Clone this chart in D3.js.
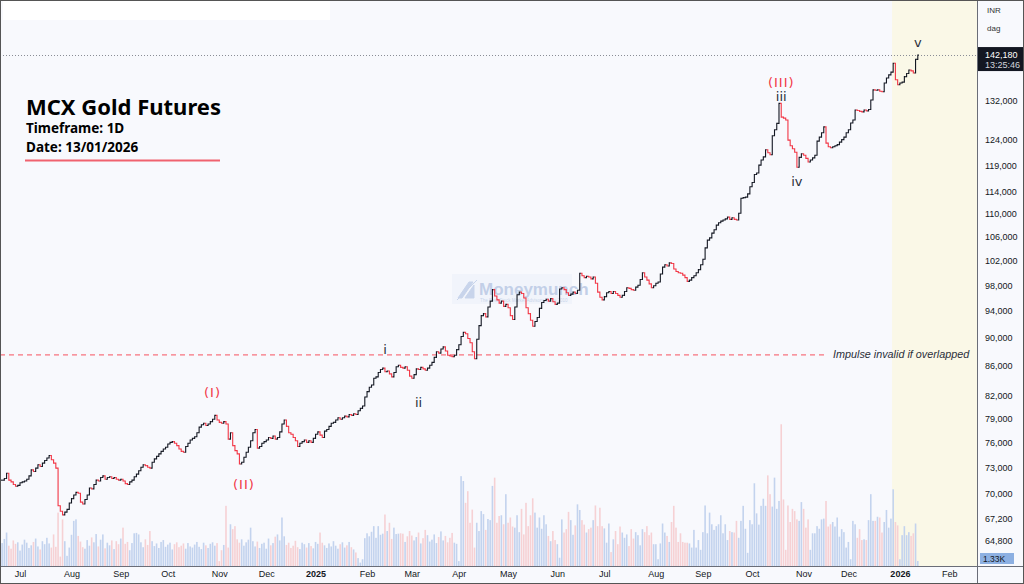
<!DOCTYPE html>
<html>
<head>
<meta charset="utf-8">
<script src="https://cdn.jsdelivr.net/npm/d3@7"></script>
<style>
  body { margin: 0; background: #fff; }
  svg { display: block; font-family: "Liberation Sans", Arial, sans-serif; }
</style>
</head>
<body>
<div id="chart"></div>
<script>
var svgWidth = 1024;
var svgHeight = 584;

// daily closes, thousands of INR, one per trading day from 19 Jun 2024
var closes = [
  // Jun 2024
  71.5, 71.7, 72.3, 71.5, 71.3, 71.0, 70.8, 70.9,
  // Jul
  71.2, 71.3, 71.4, 71.6, 72.0, 72.7, 72.5, 72.9, 73.3, 73.1, 73.5, 73.8, 74.1, 74.4, 73.9, 73.5, 72.9, 68.6, 68.0, 67.6, 67.9, 68.2, 68.9,
  // Aug
  69.4, 69.8, 70.1, 70.0, 69.0, 68.8, 69.3, 69.8, 70.6, 70.5, 71.0, 71.5, 71.4, 71.8, 72.0, 71.6, 71.8, 71.9, 71.7, 71.8, 71.6, 71.5,
  // Sep
  71.6, 71.4, 71.1, 71.0, 71.3, 71.5, 71.9, 72.2, 72.6, 73.0, 73.3, 73.2, 73.0, 72.9, 73.6, 74.0, 74.3, 74.6, 74.9, 75.2, 75.4,
  // Oct
  75.8, 76.0, 76.1, 75.9, 75.6, 75.2, 74.9, 74.8, 75.5, 75.9, 76.3, 76.5, 76.7, 77.2, 77.9, 78.2, 78.4, 78.1, 78.3, 78.6, 78.9, 79.4, 78.8,
  // Nov
  78.5, 78.4, 78.6, 78.3, 76.4, 77.2, 75.6, 75.0, 74.6, 73.4, 73.6, 74.2, 74.8, 75.4, 76.2, 77.2, 77.6, 75.3, 75.5, 75.9, 76.1,
  // Dec
  76.3, 76.6, 76.5, 76.8, 76.4, 76.6, 77.3, 78.3, 78.8, 78.0, 77.2, 77.0, 76.6, 76.2, 75.5, 75.9, 76.1, 76.3, 76.0, 76.2, 76.0, 76.5,
  // Jan 2025
  77.0, 77.3, 76.9, 76.6, 77.4, 77.6, 78.0, 78.4, 78.5, 78.8, 79.1, 78.9, 79.1, 79.3, 79.2, 79.5, 79.4, 79.6, 79.5, 80.0, 80.3, 80.6, 81.8,
  // Feb
  82.5, 83.1, 83.4, 84.3, 84.5, 85.1, 85.5, 85.7, 85.2, 85.3, 84.9, 84.5, 85.1, 85.9, 86.1, 85.8, 85.7, 85.9, 85.4, 84.6,
  // Mar
  84.3, 84.8, 85.6, 85.5, 85.8, 85.6, 85.4, 85.7, 86.1, 86.5, 87.2, 88.0, 87.8, 88.4, 88.7, 88.1, 87.5, 87.4, 87.3, 87.5, 88.3,
  // Apr
  89.0, 90.2, 90.8, 90.6, 89.9, 89.3, 88.0, 87.0, 89.8, 91.8, 93.3, 93.6, 93.1, 94.6, 95.5, 97.3, 96.3, 95.7, 95.2, 95.5, 94.7, 95.0,
  // May
  94.5, 93.3, 92.7, 94.6, 96.5, 96.9, 96.7, 96.0, 94.5, 93.6, 92.6, 91.7, 92.4, 93.0, 94.4, 95.3, 95.6, 95.8, 95.5, 95.9, 95.4, 95.0,
  // Jun
  95.2, 97.4, 97.6, 97.3, 96.8, 96.4, 96.6, 96.9, 96.7, 97.2, 99.9, 99.5, 99.2, 99.4, 99.3, 99.0, 99.3, 98.3, 96.9, 96.1, 95.7,
  // Jul
  96.2, 96.8, 97.0, 96.7, 97.0, 96.7, 96.4, 96.1, 96.4, 97.0, 97.6, 97.5, 97.3, 97.2, 97.7, 98.0, 98.9, 100.0, 99.3, 98.8, 98.2, 97.6, 97.9,
  // Aug
  98.3, 98.5, 99.8, 100.9, 101.3, 101.1, 101.6, 101.5, 100.6, 100.2, 100.0, 99.9, 99.6, 99.2, 98.6, 98.8, 99.2, 99.5, 100.0, 100.5, 101.3,
  // Sep
  102.2, 104.1, 105.4, 105.8, 106.6, 107.2, 108.0, 108.4, 108.7, 108.9, 109.1, 109.4, 109.0, 109.3, 109.0, 108.9, 110.1, 112.8, 112.9, 113.0, 113.6, 114.9,
  // Oct
  115.7, 117.2, 117.5, 119.0, 120.0, 120.6, 122.0, 121.4, 121.0, 124.8, 126.0, 127.3, 131.5, 128.6, 128.4, 128.0, 123.9, 122.8, 122.2, 121.5, 118.6, 120.5, 121.2,
  // Nov
  120.9, 120.3, 119.6, 120.0, 120.4, 120.9, 123.7, 124.5, 125.4, 126.6, 123.3, 122.6, 122.4, 122.6, 122.8, 123.0, 123.5, 124.0, 124.5, 125.4,
  // Dec
  126.0, 127.4, 128.0, 130.1, 130.0, 129.8, 129.7, 130.1, 129.9, 130.2, 132.2, 134.4, 134.3, 134.4, 134.1, 134.0, 135.9, 137.0, 137.7, 138.3, 140.3, 136.6, 135.5,
  // Jan 2026
  135.9, 136.1, 137.3, 138.0, 138.8, 138.6, 138.1, 141.2, 142.18
];

// daily volume, thousand lots
var volumes = [
  6.1, 7.2, 8.9, 5.4, 4.6, 6.8, 5.9, 6.3, 4.1, 5.7,
  7.0, 6.2, 4.8, 5.5, 6.4, 7.3, 5.2, 4.4, 6.6, 5.8,
  7.5, 6.0, 4.9, 8.4, 5.1, 14.2, 2.5, 12.4, 6.6, 2.7,
  4.9, 8.3, 12.0, 12.4, 8.0, 6.5, 5.0, 4.6, 6.9, 5.4,
  7.6, 6.3, 8.5, 5.2, 7.0, 8.4, 4.7, 6.2, 5.5, 6.8,
  4.5, 6.6, 5.8, 7.3, 10.2, 5.9, 6.4, 4.2, 6.1, 8.7,
  8.8, 8.4, 6.3, 5.0, 7.1, 5.6, 9.3, 6.6, 5.3, 6.0,
  4.8, 6.4, 6.9, 5.1, 5.7, 6.2, 4.4, 5.8, 6.3, 5.0,
  5.4, 6.0, 4.6, 6.1, 5.2, 4.9, 5.7, 6.4, 5.1, 4.5,
  6.2, 5.5, 4.8, 5.9, 6.3, 5.4, 6.1, 1.3, 4.2, 5.6,
  16.0, 4.9, 11.1, 9.8, 10.6, 7.1, 6.2, 7.1, 5.4, 6.3,
  7.0, 10.2, 6.6, 5.2, 6.5, 4.8, 5.9, 6.2, 4.6, 7.3,
  5.5, 6.1, 7.8, 8.4, 6.8, 12.9, 7.9, 5.6, 6.2, 4.8,
  5.4, 6.7, 5.0, 4.5, 6.2, 5.8, 4.9, 6.1, 5.3, 4.7,
  6.4, 5.9, 8.9, 6.2, 5.5, 4.8, 6.0, 5.2, 6.6, 5.4,
  4.6, 5.8, 6.3, 4.9, 5.5, 6.4, 5.0, 4.4, 3.6, 2.1,
  0.9, 1.8, 7.4, 8.7, 7.9, 9.1, 10.6, 7.5, 10.6, 8.3,
  8.6, 13.7, 9.3, 11.5, 7.2, 10.2, 8.5, 8.6, 8.7, 8.6,
  6.4, 7.9, 9.3, 8.1, 6.8, 7.7, 8.9, 6.0, 7.4, 9.6,
  8.2, 6.5, 7.0, 8.4, 6.1, 7.7, 9.2, 6.8, 8.0, 6.3,
  7.5, 8.8, 6.2, 5.9, 1.3, 23.9, 22.6, 16.8, 19.9, 11.5,
  15.0, 4.9, 11.5, 9.3, 14.6, 13.8, 9.6, 12.5,
  12.2, 21.3, 23.5, 11.5, 13.3, 13.5, 11.1, 19.1, 11.5, 12.9, 10.5,
  10.2, 13.5, 9.0, 15.2, 8.4, 16.8, 10.6, 13.5, 18.0, 14.2, 10.2, 12.9, 9.9, 13.5, 11.1, 8.0,
  6.6, 9.3, 6.9, 5.8, 2.2, 12.4, 8.9, 9.8, 14.4, 12.2, 8.3, 10.8, 16.4, 14.9, 12.2, 11.0,
  8.9, 9.8, 10.2, 12.2, 16.1, 10.6, 15.5, 10.6, 10.0, 6.2, 11.3, 3.7, 7.1, 9.3, 5.8, 10.5, 8.9, 7.5, 8.4, 5.3,
  9.8, 7.3, 9.0, 8.2, 5.5, 9.8, 9.0, 10.6, 8.2, 8.9, 5.8, 5.8, 1.8, 6.0, 11.3, 8.9, 8.0, 6.4, 11.7, 16.0,
  10.2, 6.4, 8.7, 6.4, 6.2, 6.2, 6.0, 4.9, 9.6, 4.9, 6.9, 4.3, 9.0, 16.1, 8.7, 14.2, 11.1, 9.6, 10.6, 11.1,
  13.5, 8.7, 11.1, 6.9, 9.3, 9.0, 8.9, 12.0, 7.5, 12.0, 16.0, 9.9, 3.5, 12.2, 11.1, 22.0, 14.0, 11.0, 16.0, 17.9,
  16.0, 24.1, 19.1, 15.8, 23.5, 15.2, 17.3, 37.7, 17.7, 4.3, 16.1, 11.7, 15.2, 14.6, 12.4, 12.0, 17.0, 15.2, 10.2, 12.4,
  4.3, 8.7, 8.7, 10.6, 9.9, 12.4, 12.6, 17.3, 10.5, 11.1, 11.7, 10.5, 12.9, 7.8, 9.8, 9.0, 4.9, 6.4, 1.8, 12.0,
  11.1, 7.5, 9.8, 6.9, 7.1, 6.9, 12.2, 19.1, 12.0, 12.0, 13.1, 12.9, 8.9, 11.7, 14.9, 10.2, 12.6, 20.4, 11.7, 10.8,
  1.8, 8.2, 10.6, 8.2, 9.0, 8.0, 8.7, 11.3, 1.33
];

var priceTicks = [64800, 67200, 70000, 73000, 76000, 79000, 82000, 86000, 90000, 94000,
  98000, 102000, 106000, 110000, 114000, 119000, 124000, 132000];
var monthNames = ["Jan", "Feb", "Mar", "Apr", "May", "Jun", "Jul", "Aug", "Sep", "Oct", "Nov", "Dec"];

var lastPrice = 142180;
var lastTime = "13:25:46";
var lastVolume = "1.33K";
var impulseLevel = 87550;
var shadeFrom = "2025-12-29";

// wave labels: trading-day index and price level of the label
var waves = [
  { text: "(I)", i: 94, price: 82440, red: true },
  { text: "(II)", i: 108, price: 71030, red: true },
  { text: "i", i: 171, price: 88380, red: false },
  { text: "ii", i: 186, price: 81100, red: false },
  { text: "(III)", i: 348, price: 135900, red: true },
  { text: "iii", i: 348, price: 133070, red: false },
  { text: "iv", i: 355, price: 115970, red: false },
  { text: "v", i: 409, price: 144990, red: false }
];

var plotRight = 977;
var timeAxisY = 566;
var upColor = "#131722", downColor = "#f23645";

var svg = d3.select("#chart")
  .append("svg")
  .attr("width", svgWidth)
  .attr("height", svgHeight);

// trading days (weekdays) starting 19 Jun 2024
var allDays = d3.timeDay.range(new Date(2024, 5, 19), new Date(2026, 2, 1))
  .filter(d => d.getDay() !== 0 && d.getDay() !== 6);

var x = d3.scaleLinear().domain([0, closes.length - 1]).range([2.1, 917.8]);
var step = x(1) - x(0);
var y = d3.scaleLog().domain([64800, 132000]).range([541, 101]);
var yVol = d3.scaleLinear().domain([0, 40]).range([timeAxisY, timeAxisY - 150.4]);

var bars = closes.map(function(c, i) {
  var open = i === 0 ? c : closes[i - 1];
  return { i: i, open: open * 1000, close: c * 1000, vol: volumes[i], up: c >= open };
});

// backgrounds
svg.append("rect").attr("width", svgWidth).attr("height", svgHeight).attr("fill", "#f8f9fd");
svg.append("rect").attr("x", 3).attr("y", 0).attr("width", 327).attr("height", 20).attr("fill", "#ffffff");

var shadeIdx = allDays.findIndex(d => d3.timeFormat("%Y-%m-%d")(d) === shadeFrom);
svg.append("rect")
  .attr("x", x(shadeIdx) - step / 2)
  .attr("y", 0)
  .attr("width", plotRight - (x(shadeIdx) - step / 2))
  .attr("height", timeAxisY)
  .attr("fill", "#faf8e7");

// watermark
var wm = svg.append("g").attr("transform", "translate(455,276)").attr("opacity", 0.6);
wm.append("rect").attr("x", -3).attr("y", -2).attr("width", 120).attr("height", 30).attr("fill", "#eef2fa");
wm.append("path").attr("d", "M3,22 L14,6 L18,6 L7,22 Z M10,22 L19,9 L19,22 Z M2,24 L22,4").attr("fill", "#a9bde0").attr("stroke", "#a9bde0");
wm.append("text").attr("x", 24).attr("y", 19).attr("font-size", 17).attr("font-weight", "bold")
  .attr("fill", "#9fb4da").text("Moneymunch");
wm.append("text").attr("x", 25).attr("y", 26).attr("font-size", 4.5).attr("fill", "#a9bde0")
  .text("The Best Stock Market Advisory Since 2010");

// volume
svg.append("g").selectAll("rect")
  .data(bars)
  .enter()
  .append("rect")
  .attr("x", d => x(d.i) - 0.8)
  .attr("width", 1.6)
  .attr("y", d => yVol(d.vol))
  .attr("height", d => timeAxisY - yVol(d.vol))
  .attr("fill", d => d.up ? "#c3d3ee" : "#f6d1d4");

// impulse invalidation level
svg.append("line")
  .attr("x1", 0).attr("x2", 826)
  .attr("y1", y(impulseLevel)).attr("y2", y(impulseLevel))
  .attr("stroke", "#f7525f").attr("stroke-width", 1).attr("stroke-dasharray", "5,4");
svg.append("text")
  .attr("x", 833).attr("y", y(impulseLevel) + 3.5)
  .attr("font-size", 10.8).attr("font-style", "italic").attr("fill", "#2a2e39")
  .text("Impulse invalid if overlapped");

// last price dotted line
svg.append("line")
  .attr("x1", 0).attr("x2", plotRight)
  .attr("y1", Math.round(y(lastPrice)) + 0.5).attr("y2", Math.round(y(lastPrice)) + 0.5)
  .attr("stroke", "#8a8d96").attr("stroke-width", 1).attr("stroke-dasharray", "1,2");

// OHLC bars
svg.append("g").selectAll("path")
  .data(bars)
  .enter()
  .append("path")
  .attr("d", function(d) {
    var cx = x(d.i), yo = y(d.open), yc = y(d.close);
    return "M" + (cx - 1.2) + "," + yo + "H" + cx + "V" + yc + "H" + (cx + 1.2);
  })
  .attr("fill", "none")
  .attr("stroke", d => d.up ? upColor : downColor)
  .attr("stroke-width", 1.1);

// wave labels
svg.append("g").selectAll("text")
  .data(waves)
  .enter()
  .append("text")
  .attr("x", d => x(d.i))
  .attr("y", d => y(d.price) + 4.5)
  .attr("text-anchor", "middle")
  .attr("font-family", "'DejaVu Sans', sans-serif")
  .attr("font-size", 13)
  .attr("letter-spacing", d => d.red ? 1 : 0)
  .attr("fill", d => d.red ? "#f23645" : "#2a2e39")
  .text(d => d.text);

// title block
var title = svg.append("g").attr("font-family", "'Noto Sans', sans-serif").attr("font-weight", "bold").attr("fill", "#000");
title.append("text").attr("x", 26).attr("y", 115).attr("font-size", 22).text("MCX Gold Futures");
title.append("text").attr("x", 26).attr("y", 133).attr("font-size", 13.5).text("Timeframe: 1D");
title.append("text").attr("x", 26).attr("y", 152).attr("font-size", 13.5).text("Date: 13/01/2026");
svg.append("line").attr("x1", 25).attr("x2", 220).attr("y1", 160.5).attr("y2", 160.5)
  .attr("stroke", "#f0626f").attr("stroke-width", 2);

// price axis
var yAxis = svg.append("g")
  .attr("transform", `translate(${plotRight}, 0)`)
  .call(d3.axisRight(y).tickValues(priceTicks).tickSize(0).tickPadding(8).tickFormat(d3.format(",")));
yAxis.select(".domain").remove();
yAxis.selectAll("text").attr("font-size", 9).attr("fill", "#131722").attr("font-family", "'Liberation Sans', Arial, sans-serif");

svg.append("text").attr("x", 987).attr("y", 13).attr("font-size", 8).attr("fill", "#333").text("INR");
svg.append("text").attr("x", 987).attr("y", 31).attr("font-size", 8).attr("fill", "#333").text("dag");

// last price label
var yl = y(lastPrice);
svg.append("rect").attr("x", 978).attr("y", yl - 8).attr("width", 46).attr("height", 24).attr("fill", "#131722");
svg.append("text").attr("x", 985).attr("y", yl + 3).attr("font-size", 9).attr("fill", "#fff").text(d3.format(",")(lastPrice));
svg.append("text").attr("x", 985).attr("y", yl + 13).attr("font-size", 9).attr("fill", "#d1d4dc").text(lastTime);

// last volume label
svg.append("rect").attr("x", 980).attr("y", 553).attr("width", 34).attr("height", 11).attr("fill", "#8db0e2");
svg.append("text").attr("x", 983).attr("y", 561.5).attr("font-size", 8.5).attr("fill", "#131722").text(lastVolume);

// time axis
var monthIdx = [];
allDays.forEach(function(d, i) {
  if (i === 0) return;
  if (d.getMonth() !== allDays[i - 1].getMonth()) monthIdx.push(i);
});
var xAxis = svg.append("g")
  .attr("transform", `translate(0, ${timeAxisY})`)
  .call(d3.axisBottom(x).tickValues(monthIdx).tickSize(0).tickPadding(5)
    .tickFormat(function(i) {
      var d = allDays[i];
      return d.getMonth() === 0 ? d.getFullYear() : monthNames[d.getMonth()];
    }));
xAxis.select(".domain").remove();
xAxis.selectAll("text")
  .attr("font-size", 9)
  .attr("fill", "#131722")
  .attr("font-family", "'Liberation Sans', Arial, sans-serif")
  .attr("font-weight", function(i) { return allDays[i].getMonth() === 0 ? "bold" : "normal"; });

// separators and frame
svg.append("line").attr("x1", plotRight + 0.5).attr("x2", plotRight + 0.5).attr("y1", 0).attr("y2", svgHeight)
  .attr("stroke", "#6a6d78");
svg.append("line").attr("x1", 0).attr("x2", svgWidth).attr("y1", timeAxisY + 0.5).attr("y2", timeAxisY + 0.5)
  .attr("stroke", "#6a6d78");
svg.append("rect").attr("x", 0.5).attr("y", 0.5).attr("width", svgWidth - 1).attr("height", svgHeight - 1)
  .attr("fill", "none").attr("stroke", "#555");
</script>
</body>
</html>
